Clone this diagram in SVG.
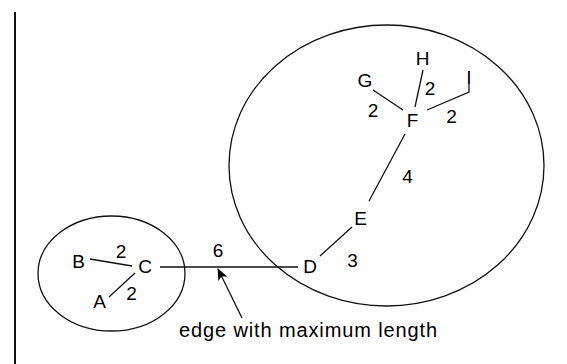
<svg xmlns="http://www.w3.org/2000/svg" width="567" height="364" viewBox="0 0 567 364">
<style>
text{font-family:"Liberation Sans",Arial,sans-serif;font-size:19px;fill:#000;text-anchor:middle}
.edge{stroke:#111;stroke-width:1.3;fill:none}
.cluster{stroke:#111;stroke-width:1.3;fill:none}
.note{font-size:20px;text-anchor:start}
</style>
<defs>
<marker id="arrow" viewBox="0 0 12 10" refX="11" refY="5" markerWidth="13" markerHeight="10" markerUnits="userSpaceOnUse" orient="auto">
<path d="M0,0 L12,5 L0,10 L3,5 Z" fill="#000"/>
</marker>
</defs>
<rect width="567" height="364" fill="#fff"/>
<line x1="15" y1="12" x2="15" y2="364" stroke="#111" stroke-width="2"/>
<g id="clusters">
<ellipse class="cluster" cx="111.5" cy="273.5" rx="73.5" ry="57.5"/>
<ellipse class="cluster" cx="386.5" cy="165.5" rx="157.5" ry="140.5"/>
</g>
<g id="connectors">
<line class="edge" x1="90" y1="259" x2="132" y2="266"/>
<line class="edge" x1="109" y1="297" x2="135" y2="273"/>
<line class="edge" x1="160" y1="267" x2="298" y2="267" stroke-width="1.6"/>
<line class="edge" x1="320" y1="256" x2="352" y2="227"/>
<line class="edge" x1="369" y1="201" x2="405" y2="134"/>
<line class="edge" x1="373" y1="90" x2="403" y2="110"/>
<line class="edge" x1="423" y1="70" x2="415" y2="107"/>
<path class="edge" d="M427,110 L469,92 L469,84"/>
<line class="edge" x1="242" y1="318" x2="218" y2="269" marker-end="url(#arrow)"/>
</g>
<g id="edge-labels">
<text x="121" y="258">2</text>
<text x="131.5" y="300">2</text>
<text x="218" y="257">6</text>
<text x="352.5" y="267">3</text>
<text x="407.5" y="183">4</text>
<text x="373" y="117">2</text>
<text x="430" y="95">2</text>
<text x="451.5" y="123">2</text>
</g>
<g id="node-A"><text x="99.5" y="308">A</text></g>
<g id="node-B"><text x="78.5" y="268">B</text></g>
<g id="node-C"><text x="145" y="273">C</text></g>
<g id="node-D"><text x="310" y="273">D</text></g>
<g id="node-E"><text x="360.5" y="225">E</text></g>
<g id="node-F"><text x="412.5" y="127">F</text></g>
<g id="node-G"><text x="365" y="87">G</text></g>
<g id="node-H"><text x="422.5" y="65">H</text></g>
<g id="node-I"><text x="469" y="84">I</text></g>
<g id="annotation"><text class="note" x="179" y="337" textLength="258" lengthAdjust="spacing">edge with maximum length</text></g>
</svg>
